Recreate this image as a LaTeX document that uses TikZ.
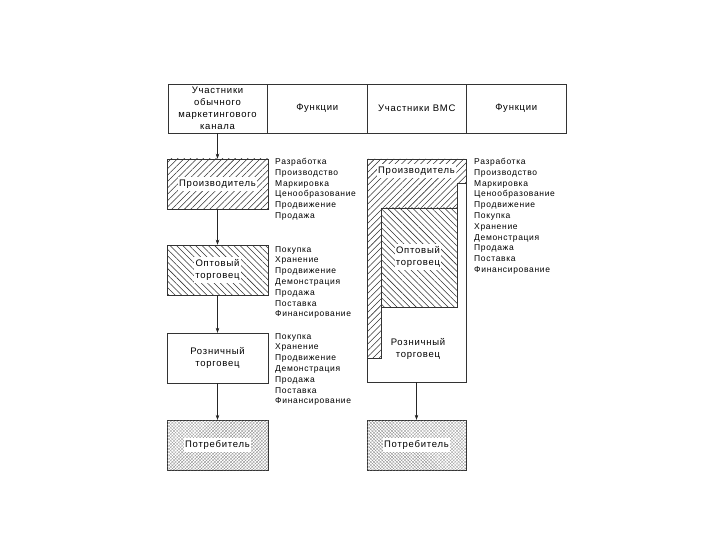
\documentclass[tikz,border=0pt]{standalone}
\usepackage{fontspec}
\setmainfont{Liberation Sans}[LetterSpace=8]
\usetikzlibrary{patterns.meta,arrows.meta}

\setlength{\fboxsep}{1pt}
\newcommand{\lbl}[1]{\colorbox{white}{\begin{tabular}{@{}c@{}}#1\end{tabular}}}

\tikzset{
  txt/.style={font=\fontsize{8.5}{10.8}\selectfont},
  big/.style={font=\fontsize{9.5}{12}\selectfont},
  hdr/.style={big, draw=black!80, minimum width=99.5pt, minimum height=49pt, inner sep=0pt, align=center},
  box/.style={big, draw=black!80, minimum width=101pt, minimum height=50pt, inner sep=0pt, align=center},
  hatchA/.style={pattern={Lines[angle=45,distance=4.5pt,line width=0.55pt]}, pattern color=black!80},
  hatchB/.style={pattern={Lines[angle=-45,distance=4.5pt,line width=0.55pt]}, pattern color=black!80},
  dotsC/.style={pattern={Lines[angle=45,distance=2.3pt,line width=0.25pt]}, pattern color=black!50,
    postaction={pattern={Lines[angle=-45,distance=2.3pt,line width=0.25pt]}, pattern color=black!50}},
  funcs/.style={txt, anchor=north west, align=left, inner sep=0pt},
  arr/.style={draw=black!85, -{Stealth[length=5pt,width=3.5pt]}}
}

\begin{document}
\begin{tikzpicture}[x=1pt, y=-1pt, txt]
\useasboundingbox (0,0) rectangle (720,540);

    % Header row
    \node[hdr] (h1) at (217.5,108.5) {Участники\\обычного\\маркетингового\\канала};
    \node[hdr] (h2) at (317.25,108.5) {Функции};
    \node[hdr] (h3) at (416.75,108.5) {Участники ВМС};
    \node[hdr] (h4) at (516.25,108.5) {Функции};

    % Ordinary channel
    \node[box, hatchA] (prod) at (217.5,184) {\lbl{Производитель}};
    \node[box, hatchB] (whol) at (217.5,270) {\lbl{Оптовый\\торговец}};
    \node[box] (ret) at (217.5,358) {Розничный\\торговец};
    \node[box, dotsC] (cons) at (217.5,445) {\lbl{Потребитель}};

    \draw[arr] (h1.south) -- (prod.north);
    \draw[arr] (prod.south) -- (whol.north);
    \draw[arr] (whol.south) -- (ret.north);
    \draw[arr] (ret.south) -- (cons.north);

    % Functions of each participant
    \node[funcs] (f1) at (275,158) {Разработка\\Производство\\Маркировка\\Ценообразование\\Продвижение\\Продажа};
    \node[funcs] (f2) at (275,246) {Покупка\\Хранение\\Продвижение\\Демонстрация\\Продажа\\Поставка\\Финансирование};
    \node[funcs] (f3) at (275,333) {Покупка\\Хранение\\Продвижение\\Демонстрация\\Продажа\\Поставка\\Финансирование};

    % VMS block
    \node[box, minimum width=99pt, minimum height=223pt] (vms) at (416.5,270.5) {};

    % Producer part
    \filldraw[draw=black!80, hatchA] (367,159) -- (466,159) -- (466,183) -- (457,183) -- (457,208)
      -- (381,208) -- (381,358) -- (367,358) -- cycle;

    % Wholesaler part
    \filldraw[draw=black!80, hatchB] (381,208) rectangle (457,307);

    \node[big] (p2) at (416.5,171) {\lbl{Производитель}};
    \node[big] (w2) at (418,257) {\lbl{Оптовый\\торговец}};
    \node[big, align=center] (r2) at (418,349) {Розничный\\торговец};

    \node[box, dotsC, minimum width=99pt] (cons2) at (416.5,445) {\lbl{Потребитель}};
    \draw[arr] (vms.south) -- (cons2.north);

    \node[funcs] (f4) at (474,158) {Разработка\\Производство\\Маркировка\\Ценообразование\\Продвижение\\Покупка\\Хранение\\Демонстрация\\Продажа\\Поставка\\Финансирование};

\end{tikzpicture}
\end{document}
